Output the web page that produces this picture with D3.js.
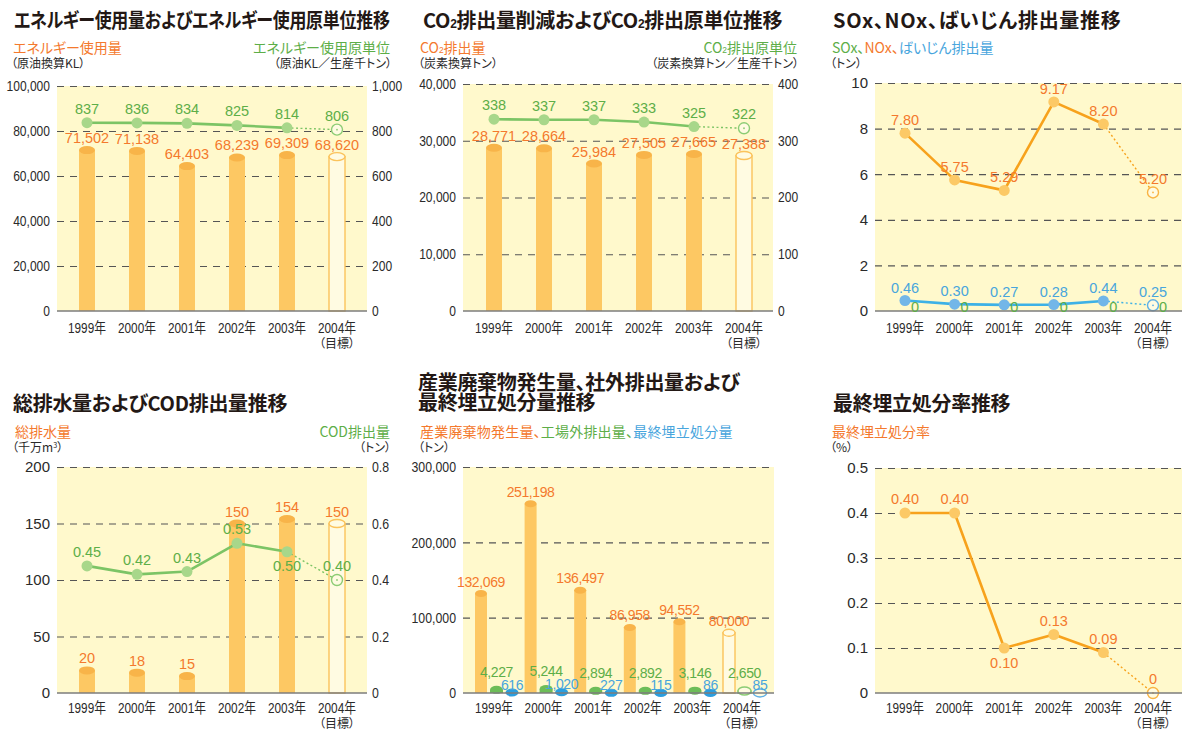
<!DOCTYPE html>
<html>
<head>
<meta charset="utf-8">
<script src="https://cdn.jsdelivr.net/npm/d3@7"></script>
<style>
  body { margin: 0; background: #fff; }
  svg { display: block; }
  .jp { font-family: "Noto Sans CJK JP", sans-serif; font-feature-settings: "palt"; }
  .num { font-family: "Liberation Sans", Arial, "Noto Sans CJK JP", sans-serif; }
</style>
</head>
<body>
<svg id="chart" width="1182" height="731"></svg>
<script>
// ---- data ----
const years = ["1999年", "2000年", "2001年", "2002年", "2003年", "2004年"];
const targetNote = "（目標）";

// energy use (crude-oil KL) and energy intensity (KL / kt)
const energyUse = [71502, 71138, 64403, 68239, 69309, 68620];
const energyIntensity = [837, 836, 834, 825, 814, 806];
const energyUseTicks = [0, 20000, 40000, 60000, 80000, 100000];
const energyIntensityTicks = [0, 200, 400, 600, 800, 1000];

// CO2 emission (t-C) and CO2 intensity
const co2Emission = [28771, 28664, 25984, 27505, 27665, 27388];
const co2Intensity = [338, 337, 337, 333, 325, 322];
const co2EmissionTicks = [0, 10000, 20000, 30000, 40000];
const co2IntensityTicks = [0, 100, 200, 300, 400];

// SOx, NOx, dust (t)
const noxEmission = [7.80, 5.75, 5.29, 9.17, 8.20, 5.20];
const dustEmission = [0.46, 0.30, 0.27, 0.28, 0.44, 0.25];
const soxEmission = [0, 0, 0, 0, 0, 0];
const airTicks = [0, 2, 4, 6, 8, 10];

// total waste water (10 million m3) and COD (t)
const wastewater = [20, 18, 15, 150, 154, 150];
const codEmission = [0.45, 0.42, 0.43, 0.53, 0.50, 0.40];
const wastewaterTicks = [0, 50, 100, 150, 200];
const codTicks = [0, 0.2, 0.4, 0.6, 0.8];

// industrial waste (t)
const wasteGenerated = [132069, 251198, 136497, 86958, 94552, 80000];
const wasteShipped = [4227, 5244, 2894, 2892, 3146, 2650];
const wasteLandfill = [616, 1020, 227, 115, 86, 85];
const wasteTicks = [0, 100000, 200000, 300000];

// final landfill rate (%)
const landfillRate = [0.40, 0.40, 0.10, 0.13, 0.09, 0];
const landfillTicks = [0, 0.1, 0.2, 0.3, 0.4, 0.5];

// ---- styles ----
const C = {
  bg: "#fff9cc", grid: "#555", base: "#7d7d7d", tick: "#2a2a2a", title: "#231815",
  barBody: "#fdc863", barTop: "#f8b449", hollowStroke: "#fbc35c", hollowFill: "#fffbe2",
  orange: "#f4792d", green: "#5dae48", blue: "#48a5dd",
  greenLine: "#7cc465", greenDot: "#a8d78a", greenRing: "#8ccc74",
  orangeLine: "#f7a21c", orangeDot: "#fcc966", orangeRing: "#f9b443",
  blueLine: "#3db1e6", blueDot: "#72b6e8", blueRing: "#5fb0e6",
  greenBar: "#6dbd58", blueBar: "#2a9ee0"
};

const svg = d3.select("#chart");
const fmtInt = d3.format(",");
const fmt2 = v => v === 0 ? "0" : d3.format(".2f")(v);
const fmtTick1 = v => v === 0 ? "0" : d3.format(".1f")(v);

// squeeze text horizontally (condensed figure style)
function condense(sel, factor) {
  if (!factor || factor === 1) return;
  sel.each(function () {
    const len = this.getComputedTextLength();
    d3.select(this).attr("textLength", len * factor).attr("lengthAdjust", "spacingAndGlyphs");
  });
}

// text made of coloured / sub / sup pieces; optional maximum width (scaled to fit)
function richText(g, x, y, parts, o) {
  const holder = g.append("g").attr("transform", `translate(${x},${y})`);
  const t = holder.append("text").attr("class", "jp").attr("x", 0).attr("y", 0)
    .attr("font-size", o.size).attr("font-weight", o.weight || 400)
    .attr("fill", o.color || C.tick).attr("text-anchor", o.anchor || "start")
    .attr("letter-spacing", o.ls || 0);
  parts.forEach(p => {
    const s = t.append("tspan").text(p.t);
    if (p.c) s.attr("fill", p.c);
    if (p.sub) s.attr("font-size", o.size * 0.6).attr("font-family", "Liberation Sans, Arial, sans-serif");
    if (p.sup) s.attr("font-size", o.size * 0.6).attr("dy", -4);
    if (p.after) s.attr("dy", 4);
  });
  if (o.width) {
    const len = t.node().getComputedTextLength();
    if (len > o.width) holder.attr("transform", `translate(${x},${y}) scale(${o.width / len},1)`);
  }
  return t;
}

function styleTicks(sel, size, factor) {
  const txt = sel.selectAll(".tick text").attr("class", "num").attr("fill", C.tick).attr("font-size", size);
  sel.attr("font-family", null).attr("font-size", null);
  condense(txt, factor);
}

function frame(p) {
  const g = svg.append("g");
  const x = d3.scalePoint().domain(years).range(p.xRange);
  const yL = d3.scaleLinear().domain([0, d3.max(p.leftTicks)]).range([p.yBase, p.yTop]);
  const yR = p.rightTicks ? d3.scaleLinear().domain([0, d3.max(p.rightTicks)]).range([p.yBase, p.yTop]) : null;

  g.append("rect").attr("x", p.x0).attr("y", p.yTop).attr("width", p.x1 - p.x0)
    .attr("height", p.yBase - p.yTop).attr("fill", C.bg);

  const left = g.append("g").attr("transform", `translate(${p.x0},0)`)
    .call(d3.axisLeft(yL).tickValues(p.leftTicks).tickFormat(p.leftFmt)
      .tickSize(-(p.x1 - p.x0)).tickPadding(p.padL || 7));
  left.select(".domain").remove();
  left.selectAll(".tick line").attr("stroke", C.grid).attr("stroke-width", 1.2)
    .attr("stroke-dasharray", "7,6").filter(d => d === 0).remove();
  styleTicks(left, p.tickSize, p.leftSqueeze);

  if (yR) {
    const right = g.append("g").attr("transform", `translate(${p.x1},0)`)
      .call(d3.axisRight(yR).tickValues(p.rightTicks).tickFormat(p.rightFmt)
        .tickSize(0).tickPadding(5));
    right.select(".domain").remove();
    right.selectAll(".tick line").remove();
    styleTicks(right, p.rightSize || p.tickSize, p.rightSqueeze);
  }

  // category labels
  const yl = g.append("g");
  yl.selectAll("text.yr").data(years).join("text").attr("class", "num")
    .attr("x", d => x(d)).attr("y", p.yearY).attr("text-anchor", "middle")
    .attr("font-size", 15).attr("fill", C.tick).text(d => d)
    .attr("textLength", 38).attr("lengthAdjust", "spacingAndGlyphs");
  yl.append("text").attr("class", "jp").attr("x", x(years[years.length - 1]))
    .attr("y", Math.min(p.yearY + 15, 728)).attr("text-anchor", "middle").attr("font-size", 12)
    .attr("fill", C.tick).text(targetNote);

  const marks = svg.append("g");
  const top = svg.append("g");
  return { g, marks, top, x, yL, yR, p };
}

function baseline(f) {
  f.top.append("line").attr("x1", f.p.x0).attr("x2", f.p.x1)
    .attr("y1", f.p.yBase).attr("y2", f.p.yBase)
    .attr("stroke", C.base).attr("stroke-width", 1.6);
}

function cylinders(f, y, vals, o) {
  const n = vals.length;
  const grp = f.marks.append("g");
  grp.selectAll("g").data(vals).join("g").each(function (v, i) {
    const gg = d3.select(this);
    const cx = f.x(years[i]) + (o.dx || 0);
    const top = y(v), base = y(0);
    const hollow = i === n - 1;
    gg.append("rect").attr("x", cx - o.w / 2).attr("y", top).attr("width", o.w)
      .attr("height", Math.max(0, base - top))
      .attr("fill", hollow ? C.hollowFill : o.body)
      .attr("stroke", hollow ? o.ring : "none").attr("stroke-width", 1.4);
    gg.append("ellipse").attr("cx", cx).attr("cy", top).attr("rx", o.w / 2).attr("ry", o.ry || 4)
      .attr("fill", hollow ? C.hollowFill : o.cap)
      .attr("stroke", hollow ? o.ring : "none").attr("stroke-width", 1.4);
  });
}

function series(f, y, vals, o) {
  const pts = vals.map((v, i) => [f.x(years[i]), y(v)]);
  const n = pts.length;
  const grp = f.marks.append("g");
  grp.append("path").attr("d", d3.line()(pts.slice(0, n - 1))).attr("fill", "none")
    .attr("stroke", o.line).attr("stroke-width", 2.6).attr("stroke-linejoin", "round");
  grp.append("path").attr("d", d3.line()(pts.slice(n - 2))).attr("fill", "none")
    .attr("stroke", o.line).attr("stroke-width", 1.4).attr("stroke-dasharray", "2,2.5");
  grp.selectAll("circle.pt").data(pts.slice(0, n - 1)).join("circle")
    .attr("cx", d => d[0]).attr("cy", d => d[1]).attr("r", 5.5).attr("fill", o.dot);
  const last = pts[n - 1];
  grp.append("circle").attr("cx", last[0]).attr("cy", last[1]).attr("r", 5.5)
    .attr("fill", C.hollowFill).attr("stroke", o.ring).attr("stroke-width", 1.4);
  grp.append("circle").attr("cx", last[0]).attr("cy", last[1]).attr("r", 0.9).attr("fill", o.ring);
}

function valueLabels(f, y, vals, o) {
  f.top.append("g").selectAll("text").data(vals).join("text").attr("class", "num")
    .attr("x", (d, i) => f.x(years[i]) + (o.dx || 0))
    .attr("y", (d, i) => y(d) + (typeof o.dy === "function" ? o.dy(d, i) : o.dy))
    .attr("text-anchor", "middle").attr("font-size", o.size || 14.5)
    .attr("letter-spacing", o.ls || 0).attr("fill", o.color).text(o.fmt);
}

const titleStyle = { size: 20, weight: 700, color: C.title, ls: -0.3 };

// ================= Panel 1: energy =================
{
  const f = frame({ x0: 57, x1: 367, yTop: 86, yBase: 311, xRange: [87, 337],
    leftTicks: energyUseTicks, leftFmt: fmtInt, rightTicks: energyIntensityTicks, rightFmt: fmtInt,
    tickSize: 14, leftSqueeze: 0.86, rightSqueeze: 0.86, yearY: 333 });
  richText(f.g, 14, 28, [{ t: "エネルギー使用量およびエネルギー使用原単位推移" }], { ...titleStyle, width: 376 });
  richText(f.g, 13, 53, [{ t: "エネルギー使用量" }], { size: 14, color: C.orange });
  richText(f.g, 11, 68, [{ t: "（原油換算KL）" }], { size: 12 });
  richText(f.g, 390, 53, [{ t: "エネルギー使用原単位" }], { size: 14, color: C.green, anchor: "end" });
  richText(f.g, 392, 68, [{ t: "（原油KL／生産千トン）" }], { size: 12, anchor: "end" });
  cylinders(f, f.yL, energyUse, { w: 16, body: C.barBody, cap: C.barTop, ring: C.hollowStroke });
  series(f, f.yR, energyIntensity, { line: C.greenLine, dot: C.greenDot, ring: C.greenRing });
  baseline(f);
  valueLabels(f, f.yL, energyUse, { dy: -7, color: C.orange, fmt: fmtInt });
  valueLabels(f, f.yR, energyIntensity, { dy: -9, color: C.green, fmt: fmtInt });
}

// ================= Panel 2: CO2 =================
{
  const f = frame({ x0: 463, x1: 773, yTop: 84, yBase: 311, xRange: [494, 744],
    leftTicks: co2EmissionTicks, leftFmt: fmtInt, rightTicks: co2IntensityTicks, rightFmt: fmtInt,
    tickSize: 14, leftSqueeze: 0.86, rightSqueeze: 0.86, yearY: 333 });
  richText(f.g, 423, 28, [{ t: "CO" }, { t: "2", sub: true }, { t: "排出量削減および" }, { t: "CO" }, { t: "2", sub: true }, { t: "排出原単位推移" }],
    { ...titleStyle, width: 374 });
  richText(f.g, 420, 53, [{ t: "CO" }, { t: "2", sub: true }, { t: "排出量" }], { size: 14, color: C.orange });
  richText(f.g, 418, 68, [{ t: "（炭素換算トン）" }], { size: 12 });
  richText(f.g, 797, 53, [{ t: "CO" }, { t: "2", sub: true }, { t: "排出原単位" }], { size: 14, color: C.green, anchor: "end" });
  richText(f.g, 799, 68, [{ t: "（炭素換算トン／生産千トン）" }], { size: 12, anchor: "end" });
  cylinders(f, f.yL, co2Emission, { w: 16, body: C.barBody, cap: C.barTop, ring: C.hollowStroke });
  series(f, f.yR, co2Intensity, { line: C.greenLine, dot: C.greenDot, ring: C.greenRing });
  baseline(f);
  valueLabels(f, f.yL, co2Emission, { dy: -7, color: C.orange, fmt: fmtInt });
  valueLabels(f, f.yR, co2Intensity, { dy: -9, color: C.green, fmt: fmtInt });
}

// ================= Panel 3: SOx / NOx / dust =================
{
  const f = frame({ x0: 875, x1: 1182, yTop: 83, yBase: 311, xRange: [905, 1153],
    leftTicks: airTicks, leftFmt: d3.format("d"), tickSize: 15, yearY: 333 });
  richText(f.g, 833, 28, [{ t: "SOx、NOx、ばいじん排出量推移" }], { ...titleStyle, ls: 0.7 });
  richText(f.g, 832, 53, [{ t: "SOx、", c: C.green }, { t: "NOx、", c: C.orange }, { t: "ばいじん排出量", c: C.blue }], { size: 14 });
  richText(f.g, 830, 68, [{ t: "（トン）" }], { size: 12 });
  series(f, f.yL, noxEmission, { line: C.orangeLine, dot: C.orangeDot, ring: C.orangeRing });
  series(f, f.yL, dustEmission, { line: C.blueLine, dot: C.blueDot, ring: C.blueRing });
  baseline(f);
  valueLabels(f, f.yL, noxEmission, { dy: -8, color: C.orange, fmt: fmt2 });
  valueLabels(f, f.yL, dustEmission, { dy: -8, color: C.blue, fmt: fmt2 });
  valueLabels(f, f.yL, soxEmission, { dx: 10, dy: 1, color: C.green, fmt: fmt2 });
}

// ================= Panel 4: waste water / COD =================
{
  const f = frame({ x0: 57, x1: 367, yTop: 467, yBase: 693, xRange: [87, 337],
    leftTicks: wastewaterTicks, leftFmt: d3.format("d"), rightTicks: codTicks, rightFmt: fmtTick1,
    tickSize: 15, rightSqueeze: 0.82, yearY: 713 });
  richText(f.g, 13, 411, [{ t: "総排水量およびCOD排出量推移" }], titleStyle);
  richText(f.g, 15, 437, [{ t: "総排水量" }], { size: 14, color: C.orange });
  richText(f.g, 12, 452, [{ t: "（千万m" }, { t: "3", sup: true }, { t: "）", after: true }], { size: 12 });
  richText(f.g, 390, 437, [{ t: "COD排出量" }], { size: 14, color: C.green, anchor: "end" });
  richText(f.g, 391, 452, [{ t: "（トン）" }], { size: 12, anchor: "end" });
  cylinders(f, f.yL, wastewater, { w: 16, body: C.barBody, cap: C.barTop, ring: C.hollowStroke });
  series(f, f.yR, codEmission, { line: C.greenLine, dot: C.greenDot, ring: C.greenRing });
  baseline(f);
  valueLabels(f, f.yL, wastewater, { dy: -7, color: C.orange, fmt: d3.format("d") });
  valueLabels(f, f.yR, codEmission, { dy: (d, i) => i === 4 ? 19 : -9, color: C.green, fmt: fmt2 });
}

// ================= Panel 5: industrial waste =================
{
  const f = frame({ x0: 463, x1: 774, yTop: 467, yBase: 693, xRange: [494, 742],
    leftTicks: wasteTicks, leftFmt: fmtInt, tickSize: 15, leftSqueeze: 0.82, yearY: 713 });
  richText(f.g, 418, 390, [{ t: "産業廃棄物発生量、社外排出量および" }], titleStyle);
  richText(f.g, 418, 410, [{ t: "最終埋立処分量推移" }], titleStyle);
  richText(f.g, 420, 437, [{ t: "産業廃棄物発生量、", c: C.orange }, { t: "工場外排出量、", c: C.green }, { t: "最終埋立処分量", c: C.blue }], { size: 14, ls: 0.2 });
  richText(f.g, 418, 452, [{ t: "（トン）" }], { size: 12 });
  cylinders(f, f.yL, wasteGenerated, { dx: -13, w: 12, ry: 3.5, body: C.barBody, cap: C.barTop, ring: C.hollowStroke });
  cylinders(f, f.yL, wasteShipped, { dx: 2.5, w: 13, ry: 4, body: C.greenBar, cap: C.greenBar, ring: C.greenRing });
  cylinders(f, f.yL, wasteLandfill, { dx: 18, w: 13, ry: 4, body: C.blueBar, cap: C.blueBar, ring: C.blueRing });
  baseline(f);
  valueLabels(f, f.yL, wasteGenerated, { dx: -13, dy: -7, size: 14, ls: -0.4, color: C.orange, fmt: fmtInt });
  valueLabels(f, f.yL, wasteShipped, { dx: 2.5, dy: -13, size: 14, ls: -0.4, color: C.green, fmt: fmtInt });
  valueLabels(f, f.yL, wasteLandfill, { dx: 18, dy: -3, size: 14, ls: -0.4, color: C.blue, fmt: fmtInt });
}

// ================= Panel 6: final landfill rate =================
{
  const f = frame({ x0: 875, x1: 1182, yTop: 468, yBase: 693, xRange: [905, 1153],
    leftTicks: landfillTicks, leftFmt: fmtTick1, tickSize: 15, yearY: 713 });
  richText(f.g, 833, 411, [{ t: "最終埋立処分率推移" }], titleStyle);
  richText(f.g, 832, 437, [{ t: "最終埋立処分率" }], { size: 14, color: C.orange });
  richText(f.g, 830, 452, [{ t: "（%）" }], { size: 12 });
  series(f, f.yL, landfillRate, { line: C.orangeLine, dot: C.orangeDot, ring: C.orangeRing });
  baseline(f);
  valueLabels(f, f.yL, landfillRate, { dy: (d, i) => i === 2 ? 20 : -9, color: C.orange, fmt: fmt2 });
}
</script>
</body>
</html>
